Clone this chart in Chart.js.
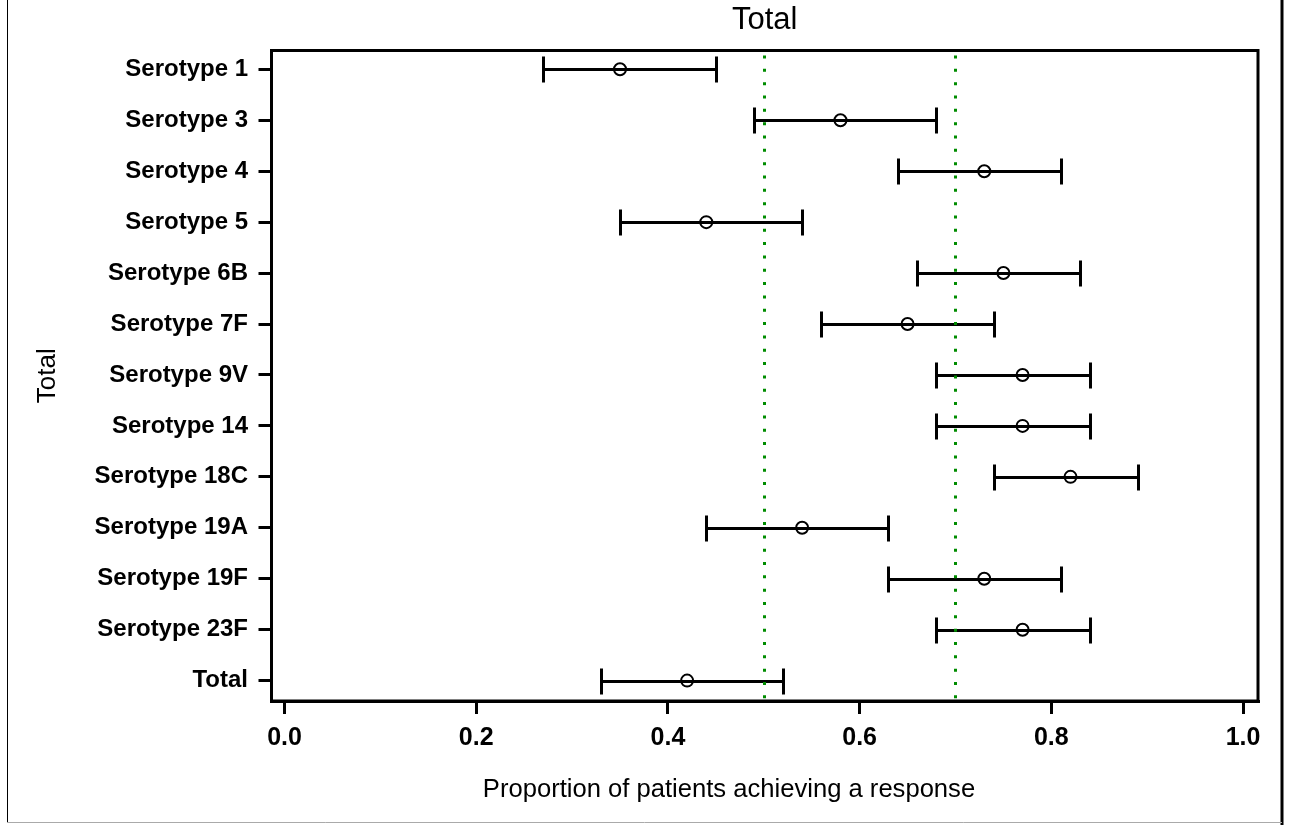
<!DOCTYPE html>
<html>
<head>
<meta charset="utf-8">
<script src="https://cdn.jsdelivr.net/npm/chart.js@4"></script>
<style>
    body { margin: 0; background: #fff; }
    canvas { display: block; }
</style>
</head>
<body>
<canvas id="responseChart" width="1290" height="825"></canvas>
<script>
// Proportion of patients achieving a response, by serotype
const categories = ['Serotype 1', 'Serotype 3', 'Serotype 4', 'Serotype 5', 'Serotype 6B', 'Serotype 7F',
    'Serotype 9V', 'Serotype 14', 'Serotype 18C', 'Serotype 19A', 'Serotype 19F', 'Serotype 23F', 'Total'];
const estimate = [0.35, 0.58, 0.73, 0.44, 0.75, 0.65, 0.77, 0.77, 0.82, 0.54, 0.73, 0.77, 0.42];
const lower = [0.27, 0.49, 0.64, 0.35, 0.66, 0.56, 0.68, 0.68, 0.74, 0.44, 0.63, 0.68, 0.33];
const upper = [0.45, 0.68, 0.81, 0.54, 0.83, 0.74, 0.84, 0.84, 0.89, 0.63, 0.81, 0.84, 0.52];
const xTicks = [0.0, 0.2, 0.4, 0.6, 0.8, 1.0];
const refLines = [0.5, 0.7];

const FONT = '"Liberation Sans", Arial, sans-serif';

// white page with the outer frame lines
const pageFrame = {
    id: 'pageFrame',
    beforeDraw(chart) {
        const ctx = chart.ctx;
        ctx.save();
        ctx.fillStyle = '#fff';
        ctx.fillRect(0, 0, chart.width, chart.height);
        ctx.strokeStyle = '#000';
        ctx.lineWidth = 1;
        ctx.beginPath();
        ctx.moveTo(7.5, 0); ctx.lineTo(7.5, 822);
        ctx.stroke();
        ctx.lineWidth = 3;
        ctx.beginPath();
        ctx.moveTo(1282, 0); ctx.lineTo(1282, 825);
        ctx.stroke();
        ctx.strokeStyle = '#aaa';
        ctx.lineWidth = 1;
        ctx.beginPath();
        ctx.moveTo(7, 822.5); ctx.lineTo(1282, 822.5);
        ctx.stroke();
        ctx.restore();
    }
};

// horizontal confidence intervals with end caps
const errorBars = {
    id: 'errorBars',
    beforeDatasetsDraw(chart) {
        const { ctx, scales: { x, y } } = chart;
        ctx.save();
        ctx.strokeStyle = '#000';
        ctx.lineWidth = 3;
        categories.forEach((c, i) => {
            const py = Math.round(y.getPixelForValue(i)) + 0.5;
            const x1 = Math.round(x.getPixelForValue(lower[i])) + 0.5;
            const x2 = Math.round(x.getPixelForValue(upper[i])) + 0.5;
            ctx.beginPath();
            ctx.moveTo(x1, py); ctx.lineTo(x2, py);
            ctx.moveTo(x1, py - 13); ctx.lineTo(x1, py + 13);
            ctx.moveTo(x2, py - 13); ctx.lineTo(x2, py + 13);
            ctx.stroke();
        });
        ctx.restore();
    },
    afterDatasetsDraw(chart) {
        const { ctx, chartArea, scales: { x } } = chart;
        ctx.save();
        // green dotted reference lines
        ctx.strokeStyle = '#008c00';
        ctx.lineWidth = 3;
        ctx.setLineDash([3, 10.33]);
        refLines.forEach(v => {
            const px = Math.round(x.getPixelForValue(v)) + 0.5;
            ctx.beginPath();
            ctx.moveTo(px, chartArea.top + 5);
            ctx.lineTo(px, chartArea.bottom);
            ctx.stroke();
        });
        ctx.setLineDash([]);
        // plot frame
        ctx.strokeStyle = '#000';
        ctx.strokeRect(chartArea.left, chartArea.top, chartArea.right - chartArea.left, chartArea.bottom - chartArea.top);
        ctx.restore();
    },
    afterDraw(chart) {
        const { ctx, chartArea } = chart;
        ctx.save();
        ctx.fillStyle = '#000';
        ctx.textAlign = 'center';
        ctx.textBaseline = 'alphabetic';
        // title centred over the plot box
        ctx.font = '31px ' + FONT;
        ctx.fillText('Total', (chartArea.left + chartArea.right) / 2, 29);
        // x axis title (sits a little left of the plot centre in the original)
        ctx.font = '25.6px ' + FONT;
        ctx.fillText('Proportion of patients achieving a response', 729, 797);
        ctx.restore();
    }
};

const ctx = document.getElementById('responseChart').getContext('2d');
const responseChart = new Chart(ctx, {
    type: 'scatter',
    data: {
        datasets: [{
            label: 'Proportion',
            data: estimate.map((v, i) => ({ x: v, y: i })),
            pointStyle: 'circle',
            pointRadius: 6,
            pointBorderWidth: 2,
            borderColor: '#000',
            backgroundColor: 'rgba(0,0,0,0)'
        }]
    },
    options: {
        responsive: false,
        animation: false,
        layout: { padding: { left: 0, right: 32, top: 50.5, bottom: 0 } },
        plugins: {
            legend: { display: false },
            tooltip: { enabled: false },
            title: { display: false }
        },
        scales: {
            x: {
                type: 'linear',
                min: -0.0136,
                max: 1.0156,
                afterBuildTicks: axis => { axis.ticks = xTicks.map(v => ({ value: v })); },
                afterFit: axis => { axis.height = 124; },
                ticks: {
                    color: '#000',
                    padding: 9,
                    maxRotation: 0,
                    autoSkip: false,
                    font: { family: FONT, size: 25, weight: 'bold' },
                    callback: v => v.toFixed(1)
                },
                grid: { drawOnChartArea: false, drawTicks: true, tickLength: 13, lineWidth: 3, color: '#000' },
                border: { display: true, width: 3, color: '#000' }
            },
            y: {
                type: 'linear',
                reverse: true,
                min: -0.369,
                max: 12.4,
                afterBuildTicks: axis => { axis.ticks = categories.map((c, i) => ({ value: i })); },
                afterFit: axis => { axis.width = 271.5; },
                ticks: {
                    color: '#000',
                    padding: 10.5,
                    autoSkip: false,
                    font: { family: FONT, size: 24, weight: 'bold' },
                    callback: v => categories[v]
                },
                grid: { drawOnChartArea: false, drawTicks: true, tickLength: 13, lineWidth: 3, color: '#000' },
                border: { display: true, width: 3, color: '#000' },
                title: {
                    display: true,
                    text: 'Total',
                    color: '#000',
                    font: { family: FONT, size: 26, weight: 'normal' },
                    padding: { top: 32.5, bottom: 0 }
                }
            }
        }
    },
    plugins: [pageFrame, errorBars]
});
</script>
</body>
</html>
